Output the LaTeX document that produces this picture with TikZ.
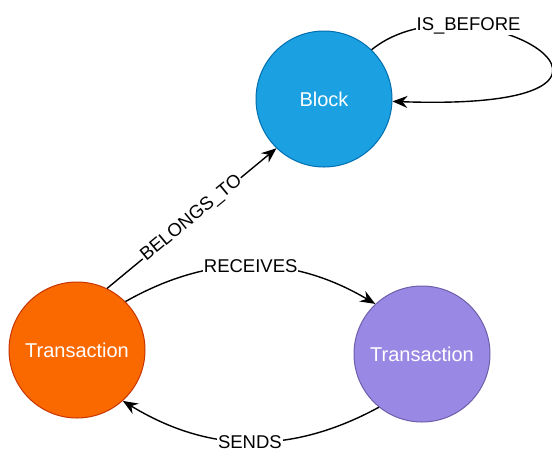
\documentclass[tikz,border=0pt]{standalone}
\usepackage{fontspec}
\setmainfont{Liberation Sans}
\usetikzlibrary{arrows.meta, positioning}
\definecolor{blkblue}{RGB}{27,161,226}
\definecolor{blkline}{RGB}{0,110,175}
\definecolor{txorange}{RGB}{250,104,0}
\definecolor{txoline}{RGB}{199,53,0}
\definecolor{txpurple}{RGB}{153,137,228}
\definecolor{txpline}{RGB}{110,94,170}

\begin{document}
\begin{tikzpicture}[x=1pt, y=-1pt,
  ent/.style={circle, minimum size=136pt, inner sep=0pt, line width=1pt, text=white, font=\fontsize{20}{24}\selectfont},
  rel/.style={-{Stealth[length=15pt, width=12pt, inset=5pt]}, line width=1.4pt, black},
  lbl/.style={fill=white, inner sep=1pt, text=black, font=\fontsize{18.5}{22}\selectfont}
]
\useasboundingbox (0,0) rectangle (552,451);
\node[ent, fill=blkblue, draw=blkline] (blk) at (324,99) {Block};
\node[ent, fill=txorange, draw=txoline] (tx1) at (77,350) {Transaction};
\node[ent, fill=txpurple, draw=txpline, right=208pt of tx1, yshift=-4pt] (tx2) {Transaction};
\draw[rel] (tx1.64) -- node[lbl, sloped] {BELONGS\_TO} (blk.226);
\draw[rel] (tx1.45) to[bend left=30] node[lbl] {RECEIVES} (tx2.133);
\draw[rel] (tx2.231) to[bend left=30] node[lbl] {SENDS} (tx1.312);
% loop on the block
\draw[rel] (blk.46) to[out=39, in=-2, out distance=128pt, in distance=315pt]
  node[lbl, pos=0.27] {IS\_BEFORE} (blk.-2);
\end{tikzpicture}
\end{document}
